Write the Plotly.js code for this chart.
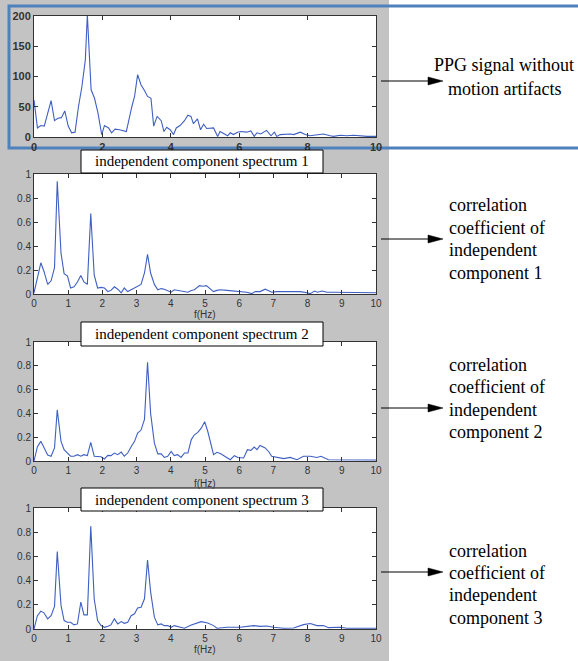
<!DOCTYPE html>
<html><head><meta charset="utf-8">
<script src="https://cdn.plot.ly/plotly-3.0.1.min.js"></script>
<style>html,body{margin:0;padding:0;background:#fff}#chart{width:578px;height:661px}</style>
</head><body><div id="chart"></div>
<script>
// PPG signal spectrum (without motion artifacts)
const ppgF = [0,0.1,0.2,0.3,0.5,0.6,0.7,0.8,0.9,1.0,1.1,1.2,1.3,1.4,1.5,1.56,1.67,1.77,1.87,1.98,2.06,2.18,2.27,2.37,2.5,2.7,2.86,2.94,3.03,3.13,3.23,3.32,3.42,3.5,3.6,3.72,3.8,3.88,3.98,4.08,4.16,4.27,4.4,4.5,4.59,4.66,4.78,4.87,4.96,5.05,5.25,5.37,5.44,5.56,5.66,5.74,5.83,5.95,6.05,6.22,6.34,6.44,6.52,6.63,6.8,6.93,7.03,7.1,7.2,7.49,7.59,7.79,7.93,8.07,8.27,8.46,8.66,8.76,8.95,9.15,9.34,9.54,9.74,10];
const ppgV = [61,15,19,18,60,27,31,32,43,18,7,8,50,83,127,202,78,64,40,4,19,15,7,13,12,9,50,67,103,86,77,67,64,18,34,27,9,16,12,4,15,19,27,36,34,22,30,12,21,14,15,1,9,5,2,7,4,8,9,8,10,1,7,5,11,2,8,1,4,5,4,8,4,2,4,5,2,1,3,2,3,2,1,1];

// independent component spectrum 1
const ic1F = [0,0.1,0.2,0.29,0.4,0.5,0.6,0.68,0.79,0.88,0.98,1.07,1.17,1.27,1.37,1.46,1.56,1.66,1.76,1.86,1.96,2.06,2.16,2.25,2.35,2.45,2.55,2.64,2.74,2.84,2.94,3.03,3.13,3.23,3.32,3.41,3.52,3.62,3.72,3.81,3.91,4.01,4.1,4.2,4.3,4.4,4.5,4.6,4.69,4.84,4.94,5.04,5.15,5.25,5.35,5.44,5.64,5.83,6.03,6.22,6.37,6.47,6.61,6.76,6.85,6.95,7.1,7.4,7.59,7.79,7.98,8.08,8.2,8.29,8.42,8.57,8.76,9.05,9.34,9.63,9.83,10];
const ic1V = [0.01,0.15,0.26,0.19,0.08,0.11,0.22,0.94,0.34,0.17,0.15,0.05,0.06,0.10,0.155,0.10,0.08,0.67,0.16,0.05,0.055,0.05,0.02,0.03,0.06,0.04,0.01,0.05,0.02,0.035,0.05,0.07,0.08,0.175,0.33,0.175,0.08,0.035,0.045,0.04,0.03,0.015,0.035,0.03,0.02,0.015,0.015,0.03,0.035,0.07,0.065,0.07,0.04,0.02,0.03,0.035,0.03,0.025,0.02,0.015,0.003,0.02,0.02,0.04,0.03,0.015,0.02,0.02,0.015,0.02,0.01,0.003,0.025,0.015,0.025,0.015,0.015,0.015,0.015,0.01,0.015,0.01];

// independent component spectrum 2
const ic2F = [0,0.1,0.2,0.29,0.4,0.5,0.6,0.68,0.79,0.88,0.98,1.07,1.17,1.27,1.37,1.46,1.56,1.66,1.76,1.86,1.96,2.06,2.16,2.25,2.35,2.45,2.55,2.64,2.74,2.84,2.94,3.03,3.13,3.23,3.32,3.41,3.52,3.62,3.72,3.81,3.91,4.01,4.1,4.2,4.3,4.4,4.5,4.6,4.69,4.79,4.89,4.99,5.08,5.25,5.35,5.46,5.64,5.74,5.86,5.96,6.13,6.24,6.34,6.44,6.52,6.61,6.76,6.86,6.95,7.1,7.3,7.49,7.69,7.88,8.08,8.27,8.39,8.61,8.86,9.24,9.54,10];
const ic2V = [0,0.12,0.165,0.11,0.05,0.04,0.11,0.43,0.165,0.095,0.067,0.04,0.04,0.053,0.04,0.053,0.045,0.157,0.04,0.04,0.036,0.017,0.047,0.045,0.067,0.053,0.075,0.04,0.067,0.12,0.165,0.235,0.26,0.35,0.83,0.4,0.15,0.06,0.06,0.03,0.04,0.08,0.045,0.053,0.03,0.067,0.067,0.18,0.22,0.24,0.276,0.33,0.25,0.053,0.073,0.06,0.025,0.011,0.045,0.03,0.025,0.095,0.09,0.117,0.095,0.13,0.11,0.08,0.04,0.034,0.02,0.03,0.011,0.04,0.04,0.03,0.04,0.011,0.011,0.014,0.008,0.008];

// independent component spectrum 3
const ic3F = [0,0.1,0.2,0.29,0.4,0.5,0.6,0.68,0.79,0.88,0.98,1.07,1.17,1.27,1.37,1.46,1.56,1.66,1.76,1.86,1.96,2.06,2.16,2.25,2.35,2.45,2.55,2.64,2.74,2.84,2.94,3.03,3.13,3.23,3.32,3.41,3.52,3.62,3.72,3.81,3.91,4.01,4.1,4.2,4.4,4.6,4.79,4.89,5.08,5.25,5.35,5.64,6.03,6.22,6.42,6.61,6.81,7.0,7.3,7.59,7.88,8.08,8.27,8.46,8.61,8.95,9.15,9.54,10];
const ic3V = [0,0.11,0.148,0.134,0.084,0.11,0.187,0.64,0.195,0.07,0.056,0.056,0.034,0.042,0.223,0.117,0.117,0.85,0.25,0.07,0.028,0.014,0.022,0.034,0.084,0.042,0.061,0.047,0.056,0.11,0.126,0.173,0.18,0.25,0.57,0.307,0.098,0.034,0.042,0.028,0.028,0.014,0.028,0.022,0.006,0.034,0.05,0.061,0.05,0.028,0.006,0.014,0.014,0.022,0.028,0.022,0.025,0.014,0.006,0.008,0.036,0.045,0.028,0.028,0.011,0.014,0.006,0.006,0.006];

const panelTitles = ["independent component spectrum 1","independent component spectrum 2","independent component spectrum 3"];
const sideTexts = [
  ["PPG signal without","motion artifacts"],
  ["correlation","coefficient of","independent","component 1"],
  ["correlation","coefficient of","independent","component 2"],
  ["correlation","coefficient of","independent","component 3"]
];
const fLabel = "f(Hz)";

const W = 578, H = 661;
const px = v => v / W;
const py = v => 1 - v / H;
const lineColor = '#3f5fc2';

const traces = [
  {x: ppgF, y: ppgV, xaxis:'x', yaxis:'y'},
  {x: ic1F, y: ic1V, xaxis:'x2', yaxis:'y2'},
  {x: ic2F, y: ic2V, xaxis:'x3', yaxis:'y3'},
  {x: ic3F, y: ic3V, xaxis:'x4', yaxis:'y4'}
].map(t => Object.assign(t, {type:'scatter', mode:'lines', line:{color:lineColor, width:1.1}, hoverinfo:'skip'}));

const boxes = [[16,137],[174,294],[342,461],[508,629]];
const pl = 34, pr = 376;

const SANS = 'Liberation Sans';
const SERIF = 'Liberation Serif';
const tickFont = {family:SANS, size:10, color:'#333'};
const boldTick = {family:SANS, size:11, color:'#333', weight:'bold'};
function xa(anchor, dtick, bold) {
  return {domain:[px(pl), px(pr)], range:[0,10], dtick:dtick, tick0:0, anchor:anchor,
    showline:true, mirror:'allticks', linecolor:'#333', linewidth:1, ticks:'inside', ticklen:4, tickcolor:'#333',
    showgrid:false, zeroline:false, tickfont: bold ? boldTick : tickFont, fixedrange:true};
}
function ya(anchor, box, range, dtick, bold) {
  return {domain:[py(box[1]), py(box[0])], range:range, dtick:dtick, tick0:0, anchor:anchor,
    showline:true, mirror:'allticks', linecolor:'#333', linewidth:1, ticks:'inside', ticklen:4, tickcolor:'#333',
    showgrid:false, zeroline:false, tickfont: bold ? boldTick : tickFont, fixedrange:true};
}

const shapes = [
  {type:'rect', xref:'paper', yref:'paper', x0:0, x1:px(389), y0:0, y1:1, fillcolor:'#c3c3c3', line:{width:0}, layer:'below'},
  {type:'rect', xref:'paper', yref:'paper', x0:px(9), x1:px(590), y0:py(148), y1:py(6), fillcolor:'rgba(0,0,0,0)', line:{color:'#4f81bd', width:3}, layer:'below'}
];
boxes.forEach(b => shapes.push({type:'rect', xref:'paper', yref:'paper', x0:px(pl), x1:px(pr), y0:py(b[1]), y1:py(b[0]), fillcolor:'#ffffff', line:{width:0}, layer:'below'}));
const titleBoxes = [[150,173],[322,346],[488,511]];
titleBoxes.forEach(b => shapes.push({type:'rect', xref:'paper', yref:'paper', x0:px(81), x1:px(323), y0:py(b[1]), y1:py(b[0]), fillcolor:'#ffffff', line:{color:'#000', width:1}, layer:'above'}));

// arrows (line + narrow filled head)
const arrowY = [81, 239, 408, 572];
const arrowX0 = 381, arrowTip = 443, headLen = 15, headHalf = 4;
arrowY.forEach(y => {
  shapes.push({type:'line', xref:'paper', yref:'paper', x0:px(arrowX0), x1:px(arrowTip-headLen+1), y0:py(y), y1:py(y), line:{color:'#000', width:1}, layer:'above'});
  shapes.push({type:'path', xref:'paper', yref:'paper', layer:'above', fillcolor:'#000', line:{color:'#000', width:0.5},
    path:`M${px(arrowTip-headLen)},${py(y-headHalf)} L${px(arrowTip)},${py(y)} L${px(arrowTip-headLen)},${py(y+headHalf)} Z`});
});

const annotations = [];
titleBoxes.forEach((b, i) => annotations.push({xref:'paper', yref:'paper', x:px(202), y:py((b[0]+b[1])/2), text:panelTitles[i], showarrow:false, xanchor:'center', yanchor:'middle', font:{family:SERIF, size:15, color:'#000'}}));
[314, 483, 649].forEach(y => annotations.push({xref:'paper', yref:'paper', x:px(205), y:py(y), text:fLabel, showarrow:false, xanchor:'center', yanchor:'middle', font:{family:SANS, size:10, color:'#333'}}));

const sidePos = [
  {x:504, y:65, gap:24, c:true},
  {x:447, y:205, gap:22.5},
  {x:447, y:365, gap:22.5},
  {x:447, y:551, gap:22.2}
];
const serif = {family:SERIF, size:18, color:'#000'};
sideTexts.forEach((lines, i) => {
  const p = sidePos[i];
  lines.forEach((t, j) => annotations.push({xref:'paper', yref:'paper', x:px(p.x), y:py(p.y + j*p.gap), text:t, showarrow:false,
    xanchor: p.c ? 'center' : 'left', yanchor:'middle', font:serif}));
});

const layout = {
  width:W, height:H, margin:{l:0, r:0, t:0, b:0}, showlegend:false,
  font:{family:SANS},
  paper_bgcolor:'#ffffff', plot_bgcolor:'rgba(0,0,0,0)',
  xaxis: xa('y', 2, true), yaxis: ya('x', boxes[0], [0,200], 50, true),
  xaxis2: xa('y2', 1), yaxis2: ya('x2', boxes[1], [0,1], 0.2),
  xaxis3: xa('y3', 1), yaxis3: ya('x3', boxes[2], [0,1], 0.2),
  xaxis4: xa('y4', 1), yaxis4: ya('x4', boxes[3], [0,1], 0.2),
  shapes: shapes, annotations: annotations
};
Plotly.newPlot('chart', traces, layout, {displayModeBar:false, staticPlot:true});
</script></body></html>
